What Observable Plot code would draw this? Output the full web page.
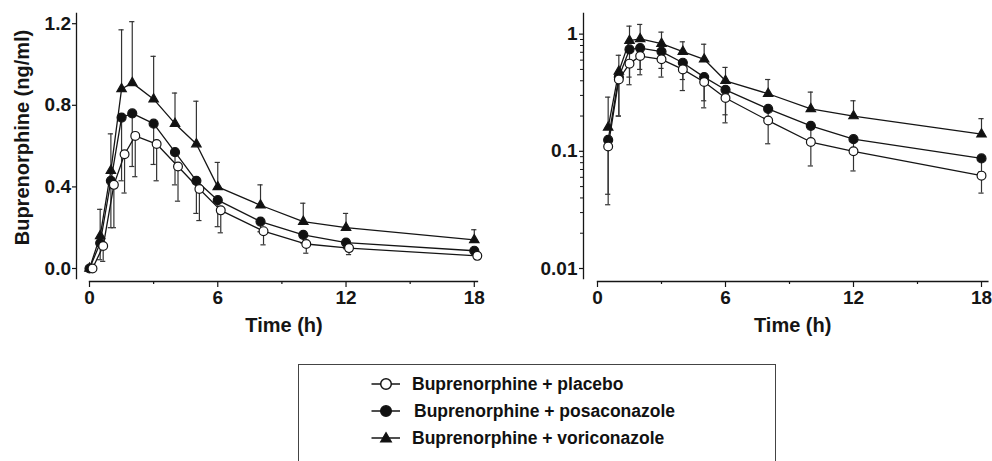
<!DOCTYPE html>
<html><head><meta charset="utf-8">
<script src="https://cdn.jsdelivr.net/npm/d3@7"></script>
<script src="https://cdn.jsdelivr.net/npm/@observablehq/plot@0.6"></script>
<style>
body{margin:0;background:#fff;}
#wrap{position:relative;width:992px;height:461px;overflow:hidden;background:#fff;font-family:"Liberation Sans",Arial,sans-serif;color:#111;}
.panel{position:absolute;top:0;}
#legend{position:absolute;left:298px;top:364px;width:478px;height:120px;border:1.5px solid #444;box-sizing:border-box;}
.item{position:absolute;font-weight:bold;font-size:17.5px;white-space:nowrap;line-height:20px;}
.sw{position:absolute;}
</style></head><body><div id="wrap"></div>
<script>
// ---- data ----
const times      = [0, 0.5, 1, 1.5, 2, 3, 4, 5, 6, 8, 10, 12, 18];
const placebo    = [0, 0.11, 0.41, 0.56, 0.65, 0.61, 0.50, 0.39, 0.285, 0.183, 0.12, 0.10, 0.062];
const placeboSD  = [0, 0.075, 0.21, 0.19, 0.20, 0.18, 0.17, 0.155, 0.11, 0.067, 0.045, 0.032, 0.018];
const posa       = [0, 0.125, 0.43, 0.74, 0.76, 0.71, 0.57, 0.43, 0.335, 0.23, 0.165, 0.127, 0.087];
const posaSD     = [0, 0.082, 0.23, 0.31, 0.26, 0.20, 0.16, 0.16, 0.13, 0.05, 0.04, 0.03, 0.02];
const vori       = [0, 0.16, 0.48, 0.88, 0.91, 0.83, 0.71, 0.61, 0.40, 0.31, 0.23, 0.20, 0.14];
const voriSD     = [0, 0.13, 0.18, 0.29, 0.30, 0.21, 0.15, 0.21, 0.12, 0.10, 0.09, 0.07, 0.05];
const seriesNames = ["Buprenorphine + placebo", "Buprenorphine + posaconazole", "Buprenorphine + voriconazole"];
const xTicks   = [0, 6, 12, 18];
const xMinor   = [3, 9, 15];
const yTicksLin = [0, 0.4, 0.8, 1.2];
const yTicksLog = [0.01, 0.1, 1];
const yMinorLog = [0.02,0.03,0.04,0.05,0.06,0.07,0.08,0.09,0.2,0.3,0.4,0.5,0.6,0.7,0.8,0.9];
const xLabel = "Time (h)";
const yLabel = "Buprenorphine (ng/ml)";

function rows(vals, sds, dir) {
  return times.map((t, i) => ({t, v: vals[i], e: vals[i] + dir * sds[i], sd: sds[i]}));
}
const series = [
  {name: seriesNames[2], data: rows(vori, voriSD, +1), symbol: "triangle", fill: "#111", r: 3.5, dxLin: 0},
  {name: seriesNames[1], data: rows(posa, posaSD, -1), symbol: "circle", fill: "#111", r: 4.5, dxLin: 0},
  {name: seriesNames[0], data: rows(placebo, placeboSD, -1), symbol: "circle", fill: "#fff", r: 4.4, dxLin: 3}
];

const INK = "#151515";
const font = {fontFamily: "'Liberation Sans', Arial, sans-serif", fontSize: "19px", fontWeight: "bold", color: INK, background: "transparent", overflow: "visible"};

function panel(log) {
  const marks = [];
  for (const s of series) {
    const d = s.data.filter(r => r.sd > 0 && (!log || r.v > 0));
    const dx = log ? 0 : s.dxLin;
    marks.push(Plot.ruleX(d, {x: "t", y1: "v", y2: "e", stroke: "#333", strokeWidth: 1.2, dx}));
    marks.push(Plot.ruleY(d, {y: "e", x1: "t", x2: "t", insetLeft: -2.6, insetRight: -2.6, stroke: "#333", strokeWidth: 1.2, dx}));
  }
  for (const s of series) {
    const d = s.data.filter(r => !log || r.v > 0);
    const dx = log ? 0 : s.dxLin;
    marks.push(Plot.line(d, {x: "t", y: "v", stroke: INK, strokeWidth: 1.3, dx}));
    marks.push(Plot.dot(d, {x: "t", y: "v", symbol: s.symbol, r: s.r, fill: s.fill, stroke: INK, strokeWidth: 1.2, dx}));
  }
  const ins = log ? 14 : 13;
  marks.push(Plot.frame({anchor: "bottom", insetLeft: ins, stroke: INK, strokeWidth: 1.3}));
  marks.push(Plot.frame({anchor: "left", insetBottom: 3, stroke: INK, strokeWidth: 1.3}));
  marks.push(Plot.axisX(xTicks, {tickSize: 6, tickPadding: 3, label: null, stroke: INK, strokeWidth: 1.2}));
  marks.push(Plot.axisX(xMinor, {tickSize: 3, tickFormat: () => "", label: null, stroke: INK, strokeWidth: 1.2}));
  if (log) {
    marks.push(Plot.axisY(yTicksLog, {tickSize: 4, tickPadding: 2, tickFormat: d => String(d), label: null, stroke: INK, strokeWidth: 1.2}));
    marks.push(Plot.axisY(yMinorLog, {tickSize: 3, tickFormat: () => "", label: null, stroke: INK, strokeWidth: 1}));
  } else {
    marks.push(Plot.axisY(yTicksLin, {tickSize: 4, tickPadding: 1.5, tickFormat: d3.format(".1f"), label: null, stroke: INK, strokeWidth: 1.2}));
    marks.push(Plot.text([yLabel], {frameAnchor: "left", textAnchor: "middle", rotate: -90, dx: -54, dy: -10, fontSize: 20, fontWeight: "bold", fill: INK}));
  }
  marks.push(Plot.text([xLabel], {frameAnchor: "bottom", dy: 50, dx: 7, fontSize: 20, fontWeight: "bold", fill: INK}));
  return Plot.plot({
    width: log ? 452 : 500,
    height: 345,
    marginLeft: log ? 43 : 76,
    marginRight: log ? 4.6 : 23,
    marginTop: 13,
    marginBottom: 64,
    style: font,
    x: {domain: log ? [0, 18.3] : [0, 18.15], insetLeft: ins},
    y: log ? {type: "log", domain: [0.01, 1.5], insetBottom: 13} : {domain: [0, 1.25], insetBottom: 13},
    marks
  });
}

const wrap = document.getElementById("wrap");
const left = panel(false); left.classList.add("panel"); left.style.left = "0px";
const right = panel(true); right.classList.add("panel"); right.style.left = "540px";
wrap.appendChild(left); wrap.appendChild(right);

// legend
const legend = document.createElement("div"); legend.id = "legend"; wrap.appendChild(legend);
const legendRows = [
  {name: seriesNames[0], sym: "circle", fill: "#fff", y: 384, tx: 412},
  {name: seriesNames[1], sym: "circle", fill: "#111", y: 411, tx: 414},
  {name: seriesNames[2], sym: "triangle", fill: "#111", y: 438, tx: 412}
];
for (const r of legendRows) {
  const sw = document.createElementNS("http://www.w3.org/2000/svg", "svg");
  sw.setAttribute("width", 32); sw.setAttribute("height", 16);
  sw.setAttribute("class", "sw");
  sw.style.left = "370px"; sw.style.top = (r.y - 8) + "px";
  let shape;
  if (r.sym === "circle") shape = `<circle cx="16" cy="8" r="5.3" fill="${r.fill}" stroke="${INK}" stroke-width="1.5"/>`;
  else shape = `<path d="${d3.symbol(d3.symbolTriangle, Math.PI * 4 * 4)()}" transform="translate(16,8.8)" fill="${r.fill}" stroke="${INK}" stroke-width="1.2"/>`;
  sw.innerHTML = `<line x1="1.5" x2="30" y1="8" y2="8" stroke="${INK}" stroke-width="1.5"/>` + shape;
  wrap.appendChild(sw);
  const t = document.createElement("div");
  t.className = "item"; t.textContent = r.name;
  t.style.left = r.tx + "px"; t.style.top = (r.y - 10) + "px";
  wrap.appendChild(t);
}
</script></body></html>
